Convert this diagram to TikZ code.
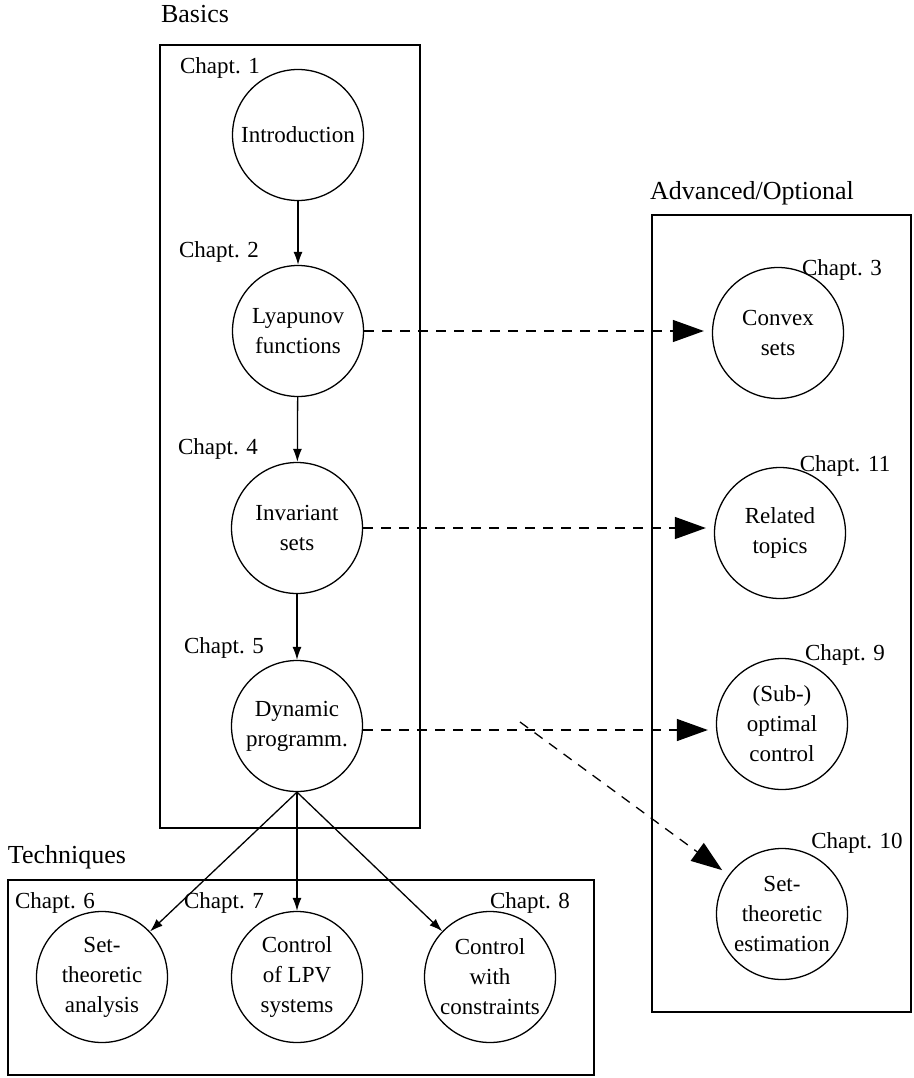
\documentclass[tikz,border=0pt]{standalone}
\usepackage{fontspec}
\setmainfont{Liberation Serif}
\usetikzlibrary{arrows.meta}
\begin{document}
\begin{tikzpicture}[x=1pt,y=-1pt,
  every node/.style={font=\fontsize{23}{30}\selectfont},
  chap/.style={circle,draw,line width=1.3pt,minimum size=131pt,inner sep=0pt,align=center},
  grp/.style={draw,line width=1.3pt},
  lbl/.style={inner sep=0pt},
  glbl/.style={inner sep=0pt,font=\fontsize{26}{30}\selectfont},
  solidarrow/.style={line width=1.3pt,-{Latex[length=13pt,width=9pt]}},
  dasharrow/.style={line width=1.3pt,dash pattern=on 10pt off 8pt,-{Triangle[length=31pt,width=22pt]},shorten >=8pt}]
\useasboundingbox (0,0) rectangle (913,1078);
% group boxes
\draw[grp] (160,45) rectangle (420,828);
\draw[grp] (652,215) rectangle (911,1012);
\draw[grp] (8,880) rectangle (594,1075);
\node[glbl] (tbas) at (195,14) {Basics};
\node[glbl] (tadv) at (752,193) {Advanced/Optional};
\node[glbl] (ttec) at (67,857) {Techniques};
% chapters
\node[chap] (intro) at (298,135) {Introduction};
\node[chap] (lyap) at (298,331) {Lyapunov\\functions};
\node[chap] (inv) at (297,528) {Invariant\\sets};
\node[chap] (dyn) at (297,726) {Dynamic\\programm.};
\node[chap] (conv) at (778,333) {Convex\\sets};
\node[chap] (rel) at (780,533) {Related\\topics};
\node[chap] (opt) at (782,724) {(Sub-)\\optimal\\control};
\node[chap] (est) at (782,914) {Set-\\theoretic\\estimation};
\node[chap] (sta) at (102,977) {Set-\\theoretic\\analysis};
\node[chap] (lpv) at (297,977) {Control\\of LPV\\systems};
\node[chap] (con) at (490,977) {Control\\with\\constraints};
% chapter labels
\node[lbl] (c1) at (220,68) {Chapt. 1};
\node[lbl] (c2) at (219,252) {Chapt. 2};
\node[lbl] (c4) at (218,449) {Chapt. 4};
\node[lbl] (c5) at (224,648) {Chapt. 5};
\node[lbl] (c3) at (842,270) {Chapt. 3};
\node[lbl] (c11) at (845,466) {Chapt. 11};
\node[lbl] (c9) at (845,655) {Chapt. 9};
\node[lbl] (c10) at (857,843) {Chapt. 10};
\node[lbl] (c6) at (55,903) {Chapt. 6};
\node[lbl] (c7) at (224,903) {Chapt. 7};
\node[lbl] (c8) at (530,903) {Chapt. 8};
% solid arrows
\draw[solidarrow] (intro) -- (lyap);
\draw[solidarrow] (lyap) -- (inv);
\draw[solidarrow] (inv) -- (dyn);
\draw[solidarrow] (dyn.south) -- (sta);
\draw[solidarrow] (dyn.south) -- (lpv);
\draw[solidarrow] (dyn.south) -- (con);
% dashed arrows
\draw[dasharrow] (lyap.east) -- (conv.west |- lyap.east);
\draw[dasharrow] (inv.east) -- (rel.west |- inv.east);
\coordinate (dstart) at ([yshift=-4pt]dyn.east);
\draw[dasharrow] (dstart) -- (opt.west |- dstart);
\coordinate (branch) at (520,722);
\draw[dasharrow] (branch) -- (est);
\end{tikzpicture}
\end{document}
